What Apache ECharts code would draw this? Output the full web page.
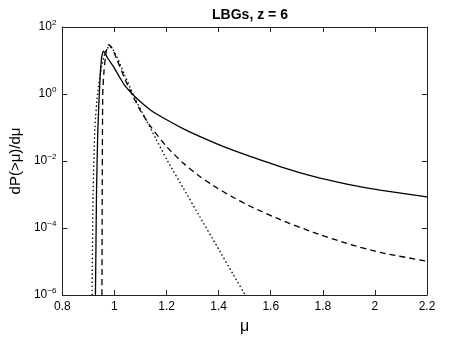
<!DOCTYPE html>
<html>
<head>
<meta charset="utf-8">
<script src="https://cdn.jsdelivr.net/npm/echarts@6/dist/echarts.min.js"></script>
<style>
  html, body { margin: 0; padding: 0; background: #fff; }
  #chart { width: 471px; height: 340px; }
</style>
</head>
<body>
<div id="chart"></div>
<script>
// values: mu and log10(dP/dmu)
var muSolid  = [0.927, 0.929, 0.931, 0.936, 0.944, 0.950, 0.955, 0.958, 0.962, 0.975, 0.997, 1.02, 1.04, 1.08, 1.138, 1.202, 1.265, 1.329, 1.393, 1.457, 1.521, 1.636, 1.764, 1.892, 2.02, 2.2];
var logSolid = [-6, -4.5, -3.0, -1.1, 0.37, 1.04, 1.24, 1.28, 1.24, 1.06, 0.81, 0.5, 0.25, -0.09, -0.475, -0.777, -1.039, -1.274, -1.486, -1.68, -1.861, -2.165, -2.46, -2.69, -2.87, -3.07];

var muDashed  = [0.952, 0.953, 0.955, 0.960, 0.968, 0.978, 0.99, 1.01, 1.04, 1.07, 1.10, 1.138, 1.202, 1.265, 1.329, 1.393, 1.457, 1.521, 1.636, 1.764, 1.892, 2.02, 2.2];
var logDashed = [-6, -3, 0, 0.7, 1.25, 1.47, 1.38, 1.02, 0.45, -0.05, -0.5, -0.96, -1.587, -2.07, -2.47, -2.80, -3.09, -3.35, -3.75, -4.13, -4.46, -4.73, -4.99];

var muDotted  = [0.914, 0.918, 0.925, 0.935, 0.950, 0.965, 0.980, 0.99, 1.01, 1.04, 1.08, 1.12, 1.16, 1.202, 1.265, 1.329, 1.393, 1.457, 1.502];
var logDotted = [-6, -3, -1, 0, 0.8, 1.25, 1.42, 1.38, 1.1, 0.55, -0.15, -0.75, -1.35, -1.97, -2.82, -3.68, -4.54, -5.40, -6];

var xTicks = [0.8, 1, 1.2, 1.4, 1.6, 1.8, 2, 2.2];

function pairs(mu, lg) {
    return mu.map(function (m, i) { return [m, Math.pow(10, lg[i])]; });
}

var chart = echarts.init(document.getElementById('chart'));
var axisColor = '#222';
var font = 'Liberation Sans';

function supLabel(v) {
    var e = Math.round(Math.log10(v));
    return '{b|10}{s|' + String(e).replace('-', '\u2212') + '}';
}

var boxAxis = {
    axisLine: { show: true, lineStyle: { color: axisColor, width: 1 } },
    axisTick: { show: true, inside: true, length: 5, lineStyle: { color: axisColor } },
    splitLine: { show: false }
};

chart.setOption({
    animation: false,
    backgroundColor: '#fff',
    textStyle: { fontFamily: font },
    title: {
        text: 'LBGs, z = 6',
        left: 245,
        top: 3,
        textAlign: 'center',
        textStyle: { fontFamily: font, fontWeight: 'bold', fontSize: 14, color: '#000' }
    },
    grid: { left: 62, right: 44, top: 27, bottom: 39 },
    xAxis: [
        Object.assign({
            type: 'value', min: 0.8, max: 2.2, interval: 0.2,
            name: '\u03bc', nameLocation: 'middle', nameGap: 24,
            nameTextStyle: { fontFamily: font, fontSize: 16, color: '#000' },
            axisLabel: {
                color: '#000', fontSize: 12, margin: 6, fontFamily: font,
                formatter: function (v) {
                    var hit = xTicks.find(function (t) { return Math.abs(t - v) < 1e-6; });
                    return hit === undefined ? '' : String(hit);
                }
            }
        }, boxAxis),
        Object.assign({
            type: 'value', min: 0.8, max: 2.2, interval: 0.2, position: 'top',
            axisLabel: { show: false }
        }, boxAxis)
    ],
    yAxis: [
        Object.assign({
            type: 'log', logBase: 10, min: 1e-6, max: 1e2, interval: 2,
            name: 'dP(>\u03bc)/d\u03bc', nameLocation: 'middle', nameGap: 38,
            nameTextStyle: { fontFamily: font, fontSize: 15, color: '#000' },
            axisLabel: {
                color: '#000', margin: 6, fontFamily: font,
                formatter: supLabel,
                rich: {
                    b: { fontSize: 12, fontFamily: font, color: '#000' },
                    s: { fontSize: 8, fontFamily: font, color: '#000', padding: [0, 0, 9, 0] }
                }
            },
            minorTick: { show: false }
        }, boxAxis),
        Object.assign({
            type: 'log', logBase: 10, min: 1e-6, max: 1e2, interval: 2, position: 'right',
            axisLabel: { show: false }
        }, boxAxis)
    ],
    series: [
        {
            type: 'line', data: pairs(muSolid, logSolid), showSymbol: false, silent: true,
            smooth: 0.2,
            lineStyle: { color: '#000', width: 1.3, type: 'solid' }
        },
        {
            type: 'line', data: pairs(muDashed, logDashed), showSymbol: false, silent: true,
            smooth: 0.2,
            lineStyle: { color: '#000', width: 1.3, type: [6, 4] }
        },
        {
            type: 'line', data: pairs(muDotted, logDotted), showSymbol: false, silent: true,
            smooth: 0.2,
            lineStyle: { color: '#000', width: 1.3, type: [1.5, 2.5] }
        }
    ]
});
</script>
</body>
</html>
